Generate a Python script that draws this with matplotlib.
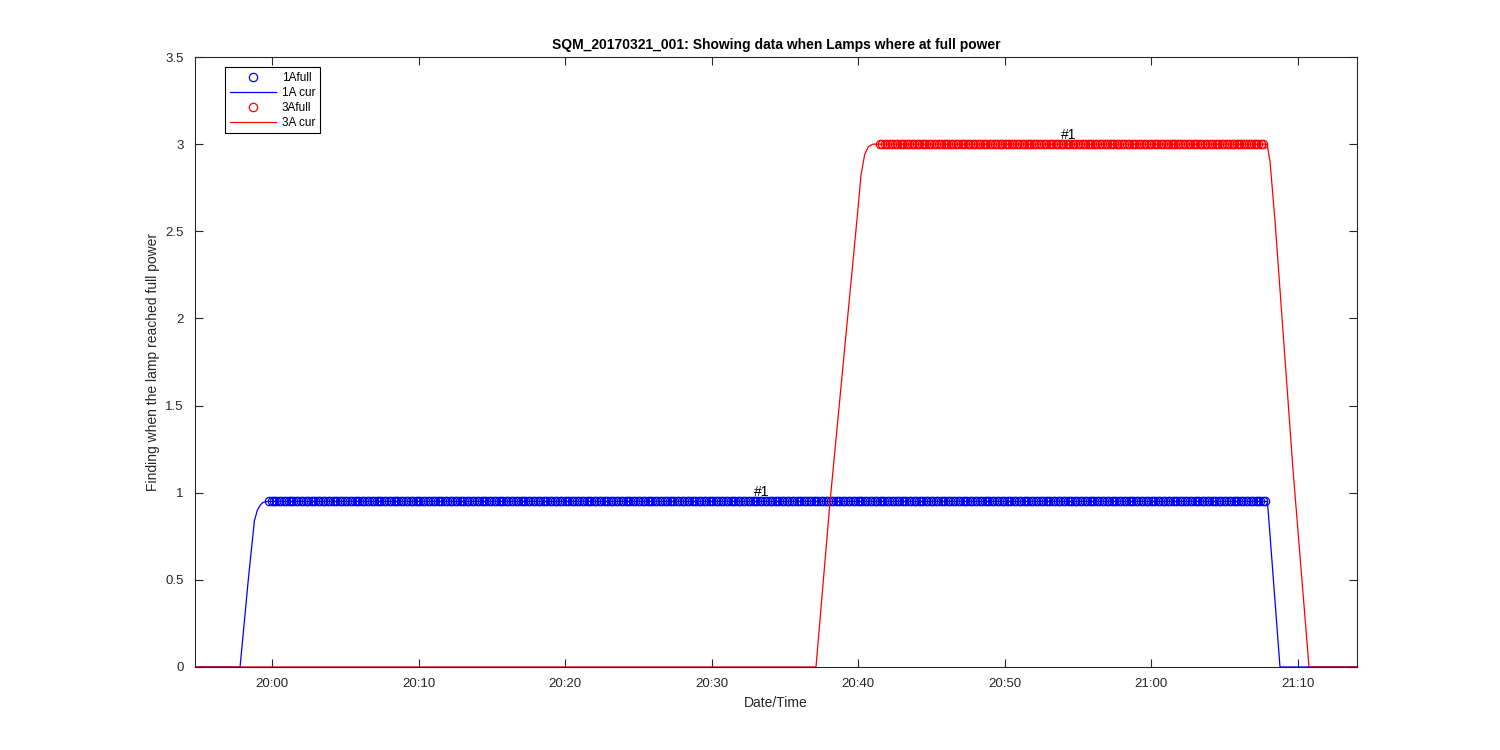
#SQM_20170321_001 lamp full power plot
import matplotlib
matplotlib.use('Agg')
import matplotlib.pyplot as plt
import matplotlib.dates as mdates
import numpy as np
import datetime as dt

plt.rcParams['font.family'] = ['Liberation Sans', 'DejaVu Sans']

base = dt.datetime(2017, 3, 21, 20, 0, 0)

#lamp current curves (minutes after 20:00, value)
cur1_min = [-5.3, -2.18, -1.62, -1.2, -1.0, -0.8, -0.6, -0.34, -0.2, 67.92, 67.99, 68.8, 74.1]
cur1_val = [0, 0, 0.5, 0.84, 0.9, 0.93, 0.945, 0.95, 0.95, 0.95, 0.9, 0, 0]
cur3_min = [-5.3, 37.13, 38.09, 39.93, 40.2, 40.45, 40.7, 41.0, 41.5, 67.92, 68.12, 68.46, 69.69, 70.78, 74.1]
cur3_val = [0, 0, 0.95, 2.57, 2.82, 2.94, 2.985, 3.0, 3.0, 3.0, 2.9, 2.56, 1.13, 0, 0]

#full power samples (start, end in minutes, sample every 10 s)
full1_range = (-0.2, 67.9)
full1_level = 0.95
full3_range = (41.5, 67.8)
full3_level = 3.0

#annotations
notes = [(33.4, 0.95, '#1'), (54.4, 3.0, '#1')]

def to_time(mins):
    return [base + dt.timedelta(minutes=float(m)) for m in mins]

step = 1 / 6
f1_min = np.arange(full1_range[0], full1_range[1] + 1e-9, step)
f3_min = np.arange(full3_range[0], full3_range[1] + 1e-9, step)
f1_val = np.full(len(f1_min), full1_level)
f3_val = np.full(len(f3_min), full3_level)

fig = plt.figure(figsize=(15, 7.5), dpi=100)
ax = fig.add_axes([0.13, 0.1107, 0.7747, 0.8133])

ax.plot(to_time(f1_min), f1_val, 'o', color='blue', mfc='none', ms=6, mew=0.9, label='1Afull')
ax.plot(to_time(cur1_min), cur1_val, '-', color='blue', lw=0.9, label='1A cur')
ax.plot(to_time(f3_min), f3_val, 'o', color='red', mfc='none', ms=6, mew=0.9, label='3Afull')
ax.plot(to_time(cur3_min), cur3_val, '-', color='red', lw=0.9, label='3A cur')

for m, v, t in notes:
    ax.text(base + dt.timedelta(minutes=m), v + 0.015, t, ha='center', va='bottom', fontsize=10)

ax.set_xlim(base - dt.timedelta(minutes=5.256), base + dt.timedelta(minutes=74.06))
ax.set_ylim(0, 3.5)
ax.set_yticks(np.arange(0, 3.51, 0.5))
ax.set_yticklabels(['0', '0.5', '1', '1.5', '2', '2.5', '3', '3.5'])
ax.xaxis.set_major_locator(mdates.MinuteLocator(byminute=[0, 10, 20, 30, 40, 50]))
ax.xaxis.set_major_formatter(mdates.DateFormatter('%H:%M'))

ax.tick_params(direction='in', top=True, right=True, length=6, width=0.8,
               labelsize=9.5, colors='#262626', pad=8)
for s in ax.spines.values():
    s.set_color('#262626')
    s.set_linewidth(0.8)

ax.set_xlabel('Date/Time', fontsize=10, color='#262626')
ax.set_ylabel('Finding when the lamp reached full power', fontsize=10, color='#262626')
ax.set_title('SQM_20170321_001: Showing data when Lamps where at full power',
             fontsize=10, fontweight='bold', pad=6)

leg = ax.legend(loc='upper left', bbox_to_anchor=(0.021, 0.993), fontsize=8.5,
                fancybox=False, edgecolor='black', framealpha=1,
                handlelength=3.9, borderpad=0.4, labelspacing=0.25, handletextpad=0.5)
leg.get_frame().set_linewidth(0.8)

fig.savefig('out.png', dpi=100, facecolor='white')
